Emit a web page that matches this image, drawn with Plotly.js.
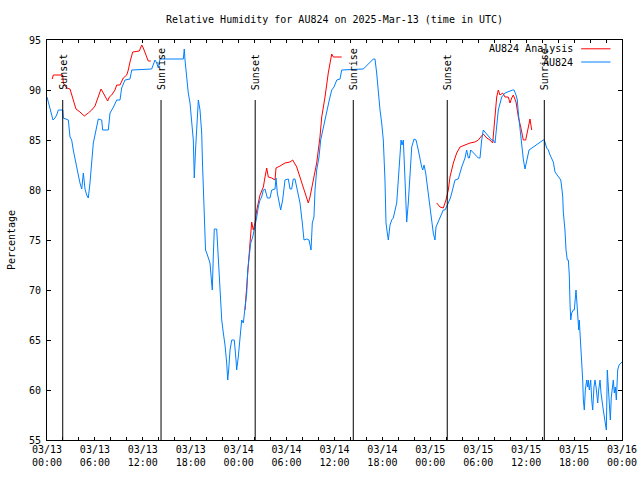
<!DOCTYPE html>
<html>
<head>
<meta charset="utf-8">
<script src="https://cdn.plot.ly/plotly-3.0.1.min.js"></script>
<style>html,body{margin:0;padding:0;background:#fff}#chart{width:640px;height:480px}</style>
</head>
<body>
<div id="chart"></div>
<script>
// hours since 2025-03-13 00:00 UTC
const obsHours = [0,0.25,0.5,0.75,1.0,1.21,1.42,1.97,2.04,2.67,2.88,3.09,3.29,3.51,3.72,3.92,4.13,4.35,4.55,4.76,4.97,5.17,5.38,5.6,5.8,6.01,6.22,6.42,6.85,6.97,7.68,7.89,8.26,8.73,9.14,9.35,9.77,10.39,10.61,13.11,13.52,13.74,13.94,14.15,17.07,17.19,17.28,17.49,17.69,17.91,18.12,18.32,18.41,18.44,18.62,18.75,18.95,19.16,19.37,19.47,19.57,19.7,19.78,19.85,20.0,20.32,20.41,20.62,20.7,20.82,20.95,21.25,21.45,21.66,21.75,21.88,22.08,22.29,22.5,22.63,22.75,22.92,23.13,23.45,23.67,23.75,23.95,24.17,24.26,24.38,24.58,24.79,25.01,25.13,25.29,25.51,25.76,26.05,26.26,26.46,26.67,26.88,27.09,27.3,27.59,27.92,28.14,28.55,28.68,28.84,29.09,29.26,29.51,29.8,30.22,30.43,30.64,30.84,31.05,31.34,31.68,31.97,32.18,32.52,32.81,33.06,33.22,33.43,33.56,33.77,34.06,34.27,34.52,34.81,35.1,35.35,35.65,35.94,36.28,36.69,36.9,39.41,39.61,40.86,41.07,41.28,41.49,41.7,41.91,42.11,42.32,42.45,42.61,42.74,42.95,43.16,43.36,43.58,43.79,43.99,44.2,44.33,44.45,44.62,44.83,44.92,45.04,45.24,45.45,45.67,45.96,46.21,46.49,46.71,46.92,47.05,47.21,47.42,47.62,47.87,48.05,48.25,48.37,48.58,48.71,49.62,49.84,50.25,50.55,51.09,51.5,51.93,52.34,52.55,52.76,52.88,53.06,54.01,54.22,54.43,54.63,55.68,55.89,56.1,56.31,56.51,56.94,57.35,58.31,58.48,58.73,58.89,59.02,59.23,59.44,59.64,59.85,60.07,60.36,62.15,62.27,62.57,62.77,62.99,63.2,63.4,63.61,64.15,64.33,64.45,64.58,64.65,64.86,64.99,65.15,65.28,65.4,65.49,65.58,65.7,65.9,66.03,66.15,66.24,66.33,66.45,66.58,66.65,66.83,66.95,67.08,67.16,67.28,67.41,67.58,67.71,67.78,67.91,68.08,68.21,68.33,68.49,68.62,68.75,68.83,68.96,69.08,69.25,69.37,69.5,69.66,69.79,69.91,70.04,70.16,70.29,70.41,70.54,70.66,70.79,70.91,71.04,71.16,71.29,71.46,71.63,72.0];
const obsRH = [89.3,88.5,87.5,87,87.2,87.5,88,88,87.2,87,85.3,85,84,83,82.3,81.5,80.7,80.1,81.7,80.1,79.5,79.2,80.7,82.5,84.7,85.5,86.3,87.1,87,86,86,87.7,88.2,89,89,90.2,91,91.1,92,92.1,93,92.7,92.2,93.1,93.1,94.1,93,91.2,89.7,88.7,86.7,85,82.3,81.2,84.3,86,89,88,85.7,82.7,80.7,78.7,76.7,74,73.7,73,72.7,70.7,70,73.3,76.1,76.1,73,70.7,68.3,67,65.7,64.5,62.7,61,62,64,65,65,63,62,63.3,65,66,67,66.7,68.3,69.7,72,73.3,74.7,75.3,76.3,77.3,78.3,79,79.3,80,80.1,79.2,79.2,80,80.1,81.2,79.7,78.7,78,79,81,81.1,80.1,80.1,81.1,81.1,80,78.7,76.7,75,75.1,75,74,76.7,77.3,80,82,83.3,85,86,86.8,88,89,90,90.3,91,91.1,92,92.1,92.1,93.1,93.1,91.7,89.7,88,86.7,85,81,76.7,75.7,75,76.5,77,77.2,78,78.7,81,83.3,85,84.5,85,81,78,76.8,78.7,82,84.3,85.1,85,84,83,82.3,82,82.5,81.7,80.3,79,77.5,76.3,75.7,75,76.3,78,78,78.7,79.3,81,81.1,82.3,83.2,84,83.2,83.2,84,83.2,83.2,85,86,85,85,84.7,86.7,88,89.3,89.7,90,90,89.5,89,87.7,86,84.3,83.1,82.1,83,84,85,85,84.2,84,83.5,83.1,82.8,81.8,81.1,81,80.3,79.3,77.8,76,74,73,73,71.5,68.7,67,67.7,68,68,69.3,70,69,67,66,67,64.7,62.7,61,59,58,60,61,60.3,61,60,61,59,58,60.3,61,60.3,59.3,58.7,60,61,59.7,58.7,58,57.3,56.7,56,62,60,58,57,59.3,60.3,61,59.7,60.3,59,62,62.5,62.8,63];

// analysis series (null = gap between analysis periods)
const anaHours = [0.66,0.79,1.97,2.04,2.47,2.88,3.29,3.63,4.13,4.67,5.17,5.6,6.01,6.42,6.76,7.05,7.35,7.6,7.8,8.1,8.51,8.73,9.14,9.55,9.98,10.18,10.39,10.73,11.56,11.86,12.06,12.27,12.48,12.68,12.99,null,24.79,25.08,25.21,25.42,25.63,25.83,26.05,26.26,26.67,27.09,27.3,27.51,27.71,28.14,28.55,28.68,29.18,29.8,30.43,30.77,31.27,31.68,32.02,32.31,32.72,32.93,33.35,33.77,34.18,34.4,34.81,35.22,35.65,35.85,36.9,null,48.8,49.21,49.62,49.96,50.25,50.46,50.88,51.3,51.72,52.34,52.97,53.59,54.01,54.31,54.63,55.06,55.47,55.81,56.1,56.31,56.51,56.72,57.06,57.35,57.76,57.98,58.19,58.39,58.73,59.02,59.32,59.64,59.94,60.19,60.48,60.69];
const anaRH = [91.1,91.5,91.5,90.7,90.2,90.1,89,88.1,87.8,87.4,87.7,88,88.4,89.3,90.1,89.7,89.2,88.9,89.3,89.5,90,90.5,90.5,91.2,91.5,92,92.8,93.8,93.9,94.5,94.2,93.7,93.3,92.9,92.9,null,68,70.7,72.3,74.7,76.8,76,76.7,78,79.5,80.3,81.3,82.2,81.3,81.2,81,82.2,82.4,82.7,82.8,83,82.3,81.3,80.3,79.7,78.7,79.3,81,82.7,85.3,87.3,89.3,91.7,93.6,93.3,93.3,null,78.7,78.3,78.2,79,80,81.3,82.7,83.7,84.3,84.5,84.7,84.8,85,85.3,85.6,85.2,85,84.7,87.7,89.3,90,89.5,89.7,89.3,89.3,88.7,89.2,89.5,88.8,87.3,86.3,85,85,86,87.1,86];

const sunHours = [1.97, 14.28, 26.07, 38.35, 50.12, 62.27];
const sunLabels = ["Sunset", "Sunrise", "Sunset", "Sunrise", "Sunset", "Sunrise"];

const tickHours = [0,2,4,6,8,10,12,14,16,18,20,22,24,26,28,30,32,34,36,38,40,42,44,46,48,50,52,54,56,58,60,62,64,66,68,70,72];
const tickLabels = ["03/13<br>00:00","","","03/13<br>06:00","","","03/13<br>12:00","","","03/13<br>18:00","","",
  "03/14<br>00:00","","","03/14<br>06:00","","","03/14<br>12:00","","","03/14<br>18:00","","",
  "03/15<br>00:00","","","03/15<br>06:00","","","03/15<br>12:00","","","03/15<br>18:00","","","03/16<br>00:00"];

const seriesNames = ["AU824 Analysis", "AU824"];
const seriesColors = ["#ff0000", "#0080ff"];

const FONT = "DejaVu Sans Mono, Liberation Mono, monospace";

const traces = [
  {x: anaHours, y: anaRH, type: "scatter", mode: "lines", name: seriesNames[0],
   line: {color: seriesColors[0], width: 1}, connectgaps: false},
  {x: obsHours, y: obsRH, type: "scatter", mode: "lines", name: seriesNames[1],
   line: {color: seriesColors[1], width: 1}, connectgaps: false}
];

const shapes = sunHours.map(h => ({type: "line", xref: "x", yref: "y", x0: h, x1: h, y0: 55, y1: 89,
  line: {color: "#000", width: 1}}));
const annotations = sunHours.map((h, i) => ({xref: "x", yref: "y", x: h, y: 89.8, text: sunLabels[i],
  textangle: -90, showarrow: false, xanchor: "center", yanchor: "bottom",
  font: {family: FONT, size: 10, color: "#000"}}));

// gnuplot-style key (text right of sample line)
const keyY = [0.978, 0.945];
seriesNames.forEach((n, i) => {
  annotations.push({xref: "paper", yref: "paper", x: 0.918, y: keyY[i], text: n, showarrow: false,
    xanchor: "right", yanchor: "middle", font: {family: FONT, size: 10, color: "#000"}});
  shapes.push({type: "line", xref: "paper", yref: "paper", x0: 0.929, x1: 0.98, y0: keyY[i], y1: keyY[i],
    line: {color: seriesColors[i], width: 1}});
});

const layout = {
  width: 640, height: 480,
  margin: {l: 47, r: 18, t: 40, b: 40, pad: 0},
  paper_bgcolor: "#fff", plot_bgcolor: "#fff",
  showlegend: false,
  font: {family: FONT, size: 10, color: "#000"},
  title: {text: "Relative Humidity for AU824 on 2025-Mar-13 (time in UTC)", x: 0.5, xref: "paper",
    y: 0.96, yref: "container", yanchor: "middle", font: {family: FONT, size: 10, color: "#000"}},
  xaxis: {range: [0, 72], tickmode: "array", tickvals: tickHours, ticktext: tickLabels,
    ticks: "inside", ticklen: 3, tickcolor: "#000", showline: true, linecolor: "#000", linewidth: 1,
    mirror: "ticks", showgrid: false, zeroline: false, tickangle: 0,
    tickfont: {family: FONT, size: 10, color: "#000"}},
  yaxis: {range: [55, 95], tickmode: "linear", tick0: 55, dtick: 5,
    ticks: "inside", ticklen: 4, tickcolor: "#000", showline: true, linecolor: "#000", linewidth: 1,
    mirror: "ticks", showgrid: false, zeroline: false, ticklabelstandoff: 3,
    title: {text: "Percentage", standoff: 11, font: {family: FONT, size: 10, color: "#000"}},
    tickfont: {family: FONT, size: 10, color: "#000"}},
  shapes: shapes,
  annotations: annotations
};

Plotly.newPlot("chart", traces, layout, {staticPlot: true, displayModeBar: false});
</script>
</body>
</html>
